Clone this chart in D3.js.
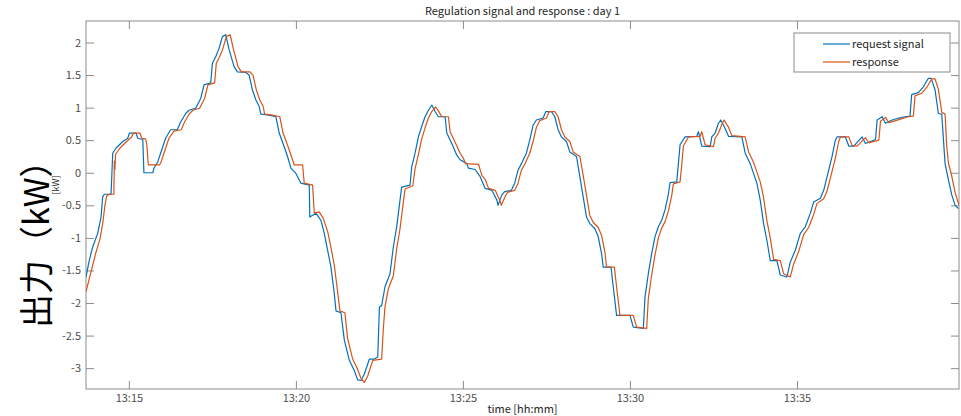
<!DOCTYPE html>
<html lang="ja">
<head>
<meta charset="UTF-8">
<script src="https://d3js.org/d3.v7.min.js"></script>
<style>
	body { margin: 0; background: #fff; }
	svg text { font-family: "Noto Sans CJK JP", "Noto Sans", sans-serif; }
</style>
<title>Regulation signal and response</title>
</head>
<body>
<div id="chart"></div>
<script>
// request signal: seconds after 13:00:00, kW
const reqSec = [823,829,835,844,850,853,856,868,871,877,889,898,901,913,916,925,927,943,945,952,957,966,975,987,993,1002,1008,1020,1029,1035,1047,1050,1056,1062,1068,1074,1080,1089,1095,1110,1116,1122,1128,1134,1137,1149,1164,1170,1179,1185,1191,1200,1209,1224,1225,1236,1245,1251,1257,1263,1269,1272,1281,1287,1296,1305,1311,1317,1323,1332,1341,1347,1350,1354,1360,1369,1375,1381,1387,1390,1405,1408,1414,1420,1426,1432,1438,1444,1450,1456,1468,1471,1480,1489,1495,1507,1510,1522,1531,1540,1552,1561,1563,1570,1575,1587,1593,1599,1605,1614,1620,1626,1632,1644,1649,1659,1665,1671,1677,1686,1692,1704,1710,1716,1722,1728,1737,1743,1749,1752,1766,1770,1776,1800,1806,1824,1827,1833,1839,1845,1851,1857,1863,1869,1872,1884,1887,1890,1899,1920,1923,1929,1944,1947,1953,1959,1963,1971,1977,2001,2007,2016,2022,2028,2034,2040,2046,2052,2064,2070,2082,2088,2097,2106,2115,2124,2130,2142,2148,2157,2163,2169,2172,2187,2193,2202,2217,2223,2241,2244,2253,2259,2271,2283,2294,2303,2306,2318,2327,2336,2341,2348,2354,2360,2366,2372,2378,2384,2390];
const reqKW = [-1.60,-1.34,-1.14,-0.93,-0.68,-0.37,-0.33,-0.33,0.30,0.38,0.48,0.53,0.61,0.61,0.53,0.51,0.00,0.00,0.07,0.17,0.30,0.53,0.66,0.66,0.78,0.91,0.96,0.99,1.14,1.35,1.38,1.68,1.78,1.91,2.09,2.12,1.89,1.63,1.55,1.54,1.50,1.27,1.12,1.02,0.90,0.89,0.86,0.61,0.40,0.25,0.07,-0.01,-0.16,-0.19,-0.68,-0.62,-0.73,-0.93,-1.19,-1.45,-1.86,-2.12,-2.15,-2.57,-2.88,-3.04,-3.18,-3.19,-3.09,-2.86,-2.86,-2.83,-2.06,-2.04,-1.75,-1.55,-1.14,-0.83,-0.42,-0.22,-0.19,0.09,0.30,0.55,0.71,0.86,0.96,1.04,0.94,0.86,0.86,0.61,0.45,0.27,0.20,0.14,0.07,0.05,-0.06,-0.24,-0.27,-0.42,-0.50,-0.34,-0.29,-0.27,-0.16,0.04,0.14,0.30,0.50,0.73,0.81,0.84,0.94,0.94,0.86,0.66,0.55,0.48,0.32,0.25,-0.06,-0.37,-0.68,-0.78,-0.86,-0.98,-1.24,-1.45,-1.45,-1.75,-2.19,-2.19,-2.37,-2.39,-1.91,-1.55,-1.24,-0.98,-0.83,-0.73,-0.57,-0.33,-0.15,-0.14,0.14,0.43,0.55,0.56,0.63,0.41,0.40,0.55,0.61,0.76,0.81,0.68,0.56,0.55,0.30,0.14,-0.01,-0.16,-0.42,-0.78,-1.04,-1.35,-1.35,-1.57,-1.60,-1.37,-1.19,-0.93,-0.83,-0.62,-0.45,-0.39,-0.27,0.04,0.25,0.50,0.55,0.55,0.41,0.41,0.55,0.45,0.51,0.81,0.86,0.76,0.81,0.84,0.86,0.87,1.20,1.23,1.32,1.45,1.45,1.27,0.91,0.90,0.14,-0.11,-0.34,-0.50,-0.55];

// response: seconds after 13:00:00, kW
const resSec = [823,829,835,841,848,853,857,860,864,873,874,875,876,880,884,896,905,908,920,923,930,932,935,955,958,963,972,981,994,1000,1009,1015,1027,1036,1042,1054,1057,1063,1069,1075,1082,1088,1096,1102,1117,1123,1129,1135,1141,1144,1156,1171,1177,1186,1192,1197,1212,1215,1230,1233,1242,1249,1257,1263,1269,1275,1279,1288,1293,1302,1311,1317,1323,1329,1338,1354,1357,1360,1366,1375,1381,1387,1393,1396,1410,1414,1420,1426,1432,1438,1444,1451,1456,1462,1474,1477,1486,1495,1501,1505,1528,1534,1540,1546,1558,1566,1569,1575,1580,1593,1599,1605,1611,1620,1626,1632,1638,1650,1655,1665,1671,1677,1683,1692,1698,1710,1716,1722,1728,1734,1743,1749,1755,1758,1772,1776,1782,1806,1812,1830,1833,1839,1845,1851,1857,1863,1869,1875,1878,1890,1893,1896,1905,1926,1929,1935,1950,1953,1959,1965,1969,1977,1983,2007,2013,2022,2028,2034,2040,2046,2052,2058,2070,2076,2088,2094,2103,2112,2121,2130,2136,2148,2154,2163,2169,2175,2178,2193,2199,2208,2223,2229,2247,2250,2259,2265,2277,2289,2300,2309,2312,2324,2333,2342,2348,2354,2360,2366,2369,2372,2378,2384,2391];
const resKW = [-1.83,-1.62,-1.42,-1.22,-1.02,-0.78,-0.50,-0.36,-0.33,-0.33,0.18,0.05,0.28,0.33,0.38,0.48,0.55,0.61,0.61,0.53,0.52,0.45,0.12,0.12,0.17,0.30,0.53,0.64,0.66,0.78,0.91,0.96,0.99,1.14,1.35,1.38,1.68,1.78,1.91,2.09,2.12,1.89,1.63,1.55,1.55,1.50,1.27,1.12,1.02,0.90,0.89,0.86,0.61,0.40,0.25,0.12,0.12,-0.16,-0.19,-0.62,-0.60,-0.70,-0.90,-1.15,-1.42,-1.83,-2.12,-2.15,-2.55,-2.86,-3.02,-3.16,-3.22,-3.12,-2.88,-2.86,-2.40,-2.06,-1.78,-1.58,-1.17,-0.86,-0.45,-0.25,-0.20,0.06,0.28,0.52,0.69,0.84,0.94,1.01,0.95,0.86,0.86,0.63,0.47,0.30,0.22,0.14,0.13,-0.04,-0.10,-0.24,-0.27,-0.42,-0.50,-0.38,-0.30,-0.27,-0.16,0.04,0.13,0.30,0.48,0.70,0.80,0.84,0.94,0.94,0.86,0.66,0.55,0.48,0.32,0.25,-0.04,-0.35,-0.66,-0.76,-0.84,-0.96,-1.22,-1.45,-1.45,-1.75,-2.19,-2.19,-2.37,-2.39,-1.93,-1.57,-1.26,-1.00,-0.85,-0.75,-0.59,-0.35,-0.17,-0.14,0.12,0.41,0.55,0.56,0.63,0.43,0.40,0.53,0.61,0.74,0.81,0.70,0.57,0.55,0.32,0.16,0.01,-0.14,-0.38,-0.74,-1.00,-1.33,-1.35,-1.55,-1.60,-1.40,-1.21,-0.95,-0.84,-0.64,-0.47,-0.40,-0.28,0.02,0.23,0.48,0.55,0.55,0.42,0.41,0.54,0.46,0.50,0.79,0.85,0.77,0.80,0.83,0.86,0.87,1.18,1.22,1.31,1.44,1.44,1.28,0.93,0.90,0.40,0.15,-0.05,-0.30,-0.50];

const seriesNames = ["request signal", "response"];
const seriesColors = ["#0072BD", "#D95319"];
const yTicks = [-3, -2.5, -2, -1.5, -1, -0.5, 0, 0.5, 1, 1.5, 2];
const xTickMinutes = [15, 20, 25, 30, 35];
const timeRange = [823, 2391];   // 13:13:43 .. 13:39:51
const valueRange = [-3.32, 2.33];

const width = 961, height = 416;
const margin = { top: 21, right: 2, bottom: 27, left: 86 };
const plotW = width - margin.left - margin.right;
const plotH = height - margin.top - margin.bottom;

const toDate = s => new Date(2020, 0, 1, 13, 0, s);

const svg = d3.select("#chart").append("svg")
	.attr("width", width)
	.attr("height", height);

const g = svg.append("g")
	.attr("transform", `translate(${margin.left},${margin.top})`);

const x = d3.scaleTime(timeRange.map(toDate), [0, plotW]);
const y = d3.scaleLinear(valueRange, [plotH, 0]);

const xTickDates = xTickMinutes.map(m => new Date(2020, 0, 1, 13, m, 0));

// axes, ticks pointing inwards on all four sides
const xAxis = g.append("g")
	.attr("transform", `translate(0,${plotH})`)
	.call(d3.axisBottom(x).tickValues(xTickDates).tickFormat(d3.timeFormat("%H:%M"))
		.tickSize(-8).tickPadding(5));
const xTop = g.append("g")
	.call(d3.axisTop(x).tickValues(xTickDates).tickFormat("").tickSize(-8));
const yAxis = g.append("g")
	.call(d3.axisLeft(y).tickValues(yTicks).tickFormat(d => String(d))
		.tickSize(-8).tickPadding(5));
const yRight = g.append("g")
	.attr("transform", `translate(${plotW},0)`)
	.call(d3.axisRight(y).tickValues(yTicks).tickFormat("").tickSize(-8));

g.selectAll(".domain").remove();
g.selectAll(".tick line").attr("stroke", "#8c8c8c");
g.selectAll(".tick text").attr("fill", "#4d4d4d").style("font-size", "11px");

g.append("rect")
	.attr("width", plotW)
	.attr("height", plotH)
	.attr("fill", "none")
	.attr("stroke", "#8c8c8c")
	.attr("stroke-width", 1);

// lines
g.append("clipPath").attr("id", "clip")
	.append("rect").attr("width", plotW).attr("height", plotH);

const line = d3.line()
	.x(d => x(toDate(d[0])))
	.y(d => y(d[1]));

const series = [
	d3.zip(reqSec, reqKW),
	d3.zip(resSec, resKW)
];

g.append("g").attr("clip-path", "url(#clip)")
	.selectAll("path")
	.data(series)
	.join("path")
	.attr("d", line)
	.attr("fill", "none")
	.attr("stroke", (d, i) => seriesColors[i])
	.attr("stroke-width", 1.2)
	.attr("stroke-linejoin", "round");

// title and labels
svg.append("text")
	.attr("x", margin.left + plotW / 2)
	.attr("y", 15)
	.attr("text-anchor", "middle")
	.attr("fill", "#262626")
	.style("font-size", "11px")
	.text("Regulation signal and response : day 1");

svg.append("text")
	.attr("x", margin.left + plotW / 2)
	.attr("y", 413)
	.attr("text-anchor", "middle")
	.attr("fill", "#262626")
	.style("font-size", "11px")
	.text("time [hh:mm]");

svg.append("text")
	.attr("transform", "translate(59,185) rotate(-90)")
	.attr("text-anchor", "middle")
	.attr("fill", "#262626")
	.style("font-size", "9px")
	.text("[kW]");

svg.append("text")
	.attr("transform", "translate(49,328) rotate(-90)")
	.attr("text-anchor", "start")
	.attr("fill", "#000")
	.style("font-size", "34px")
	.text("出力（kW）");

// legend
const legend = svg.append("g").attr("transform", "translate(794,33)");
legend.append("rect")
	.attr("width", 156)
	.attr("height", 39)
	.attr("fill", "#fff")
	.attr("stroke", "#8c8c8c");
const rows = legend.selectAll(".row")
	.data(seriesNames)
	.join("g")
	.attr("class", "row")
	.attr("transform", (d, i) => `translate(0,${11 + i * 18})`);
rows.append("line")
	.attr("x1", 29).attr("x2", 56)
	.attr("stroke", (d, i) => seriesColors[i])
	.attr("stroke-width", 1.2);
rows.append("text")
	.attr("x", 58)
	.attr("dy", "0.35em")
	.attr("fill", "#262626")
	.style("font-size", "11px")
	.text(d => d);
</script>
</body>
</html>
